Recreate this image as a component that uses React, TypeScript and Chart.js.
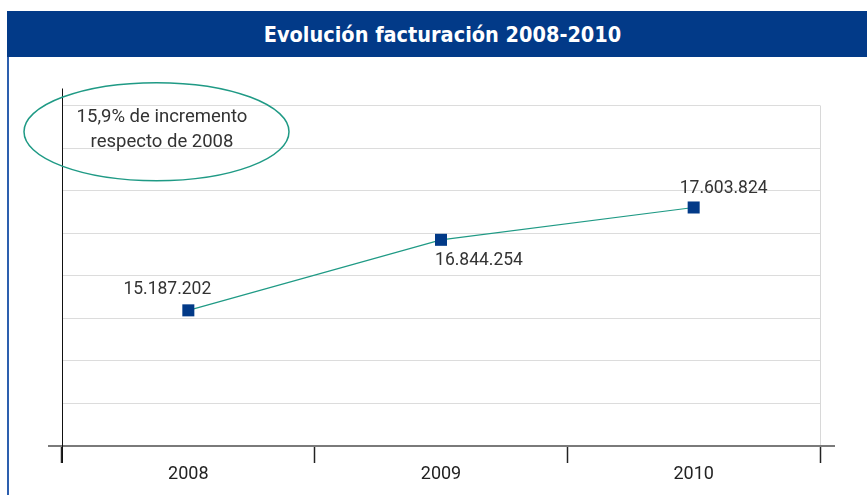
import React, { useEffect, useRef } from "react";
import { Chart, registerables } from "chart.js";

Chart.register(...registerables);

const TITLE = "Evolución facturación 2008-2010";
const years = ["2008", "2009", "2010"];
const revenue = [15187202, 16844254, 17603824];
const valueLabels = ["15.187.202", "16.844.254", "17.603.824"];
const noteLines = ["15,9% de incremento", "respecto de 2008"];
const yMin = 12000000;
const yMax = 20000000;
const yStep = 1000000;

// label offsets from their points (px)
const labelOffsets: [number, number][] = [
  [-21, -21],
  [38, 21],
  [30, -19],
];

const NAVY = "#023a88";
const TEAL = "#1f9a85";

const decoPlugin = {
  id: "deco",
  beforeDatasetsDraw(chart: any) {
    const { ctx, chartArea } = chart;
    const { left, right, top, bottom } = chartArea;
    ctx.save();
    // x axis line
    ctx.strokeStyle = "#7a7a7a";
    ctx.lineWidth = 2;
    ctx.beginPath();
    ctx.moveTo(left - 14, bottom);
    ctx.lineTo(right + 15, bottom);
    ctx.stroke();
    // y axis line
    ctx.strokeStyle = "#111";
    ctx.lineWidth = 1;
    ctx.beginPath();
    ctx.moveTo(left + 0.5, top - 17);
    ctx.lineTo(left + 0.5, bottom + 17);
    ctx.stroke();
    // annotation ellipse
    ctx.strokeStyle = TEAL;
    ctx.lineWidth = 1.5;
    ctx.beginPath();
    ctx.ellipse(left + 94.5, top + 26.2, 132.5, 49, 0, 0, Math.PI * 2);
    ctx.stroke();
    ctx.fillStyle = "#333";
    ctx.font = "18.5px Roboto, 'Noto Sans', sans-serif";
    ctx.textAlign = "center";
    ctx.textBaseline = "middle";
    ctx.fillText(noteLines[0], left + 100, top + 12);
    ctx.fillText(noteLines[1], left + 100, top + 37);
    ctx.restore();
  },
  afterDatasetsDraw(chart: any) {
    const { ctx } = chart;
    const meta = chart.getDatasetMeta(0);
    ctx.save();
    ctx.fillStyle = "#333";
    ctx.font = "17.5px Roboto, 'Noto Sans', sans-serif";
    ctx.textAlign = "center";
    ctx.textBaseline = "middle";
    meta.data.forEach((pt: any, i: number) => {
      const [dx, dy] = labelOffsets[i];
      ctx.fillText(valueLabels[i], pt.x + dx, pt.y + dy);
    });
    ctx.restore();
  },
};

export default function App() {
  const ref = useRef<HTMLCanvasElement | null>(null);

  useEffect(() => {
    if (!ref.current) return;
    const chart = new Chart(ref.current, {
      type: "line",
      data: {
        labels: years,
        datasets: [
          {
            data: revenue,
            borderColor: TEAL,
            borderWidth: 1.2,
            tension: 0,
            pointStyle: "rect",
            pointRadius: 8.5,
            pointHoverRadius: 8.5,
            pointBackgroundColor: NAVY,
            pointBorderWidth: 0,
            clip: false as any,
          },
        ],
      },
      options: {
        responsive: false,
        animation: false,
        events: [],
        layout: { padding: { left: 62, right: 47, top: 48.5, bottom: 0 } },
        plugins: {
          legend: { display: false },
          tooltip: { enabled: false },
          title: { display: false },
        },
        scales: {
          x: {
            type: "category",
            offset: true,
            border: { display: false },
            grid: {
              offset: true,
              drawOnChartArea: true,
              color: (c: any) =>
                c.index === undefined || c.index >= years.length ? "#d8d8d8" : "rgba(0,0,0,0)",
              lineWidth: 1,
              tickColor: "#222",
              tickLength: 17,
              tickWidth: 1.5,
            } as any,
            ticks: {
              color: "#222",
              font: { family: "Roboto, 'Noto Sans', sans-serif", size: 18 },
              padding: 1,
              maxRotation: 0,
            },
            afterFit: (s: any) => {
              s.height = 49;
            },
          },
          y: {
            min: yMin,
            max: yMax,
            border: { display: false },
            grid: {
              color: "#dcdcdc",
              lineWidth: 1,
              drawTicks: false,
            },
            ticks: { display: false, stepSize: yStep },
            afterFit: (s: any) => {
              s.width = 0;
            },
          },
        },
      },
      plugins: [decoPlugin],
    });
    return () => chart.destroy();
  }, []);

  return (
    <div
      style={{
        position: "absolute",
        left: 0,
        top: 0,
        width: 867,
        height: 495,
        background: "#fff",
        overflow: "hidden",
      }}
    >
      <div
        style={{
          position: "absolute",
          left: 7,
          top: 11,
          width: 860,
          height: 46,
          background: NAVY,
          color: "#fff",
          display: "flex",
          alignItems: "center",
          justifyContent: "center",
          paddingLeft: 11,
          boxSizing: "border-box",
          fontFamily: "'Liberation Sans Narrow', 'DejaVu Sans Condensed', 'Roboto Condensed', sans-serif",
          fontWeight: "bold",
          fontSize: 21.5,
        }}
      >
        {TITLE}
      </div>
      <div
        style={{
          position: "absolute",
          left: 7,
          top: 57,
          width: 2,
          height: 438,
          background: "#2d5fae",
        }}
      />
      <div style={{ position: "absolute", left: 0, top: 57, width: 867, height: 438 }}>
        <canvas ref={ref} width={867} height={438} style={{ display: "block" }} />
      </div>
    </div>
  );
}
